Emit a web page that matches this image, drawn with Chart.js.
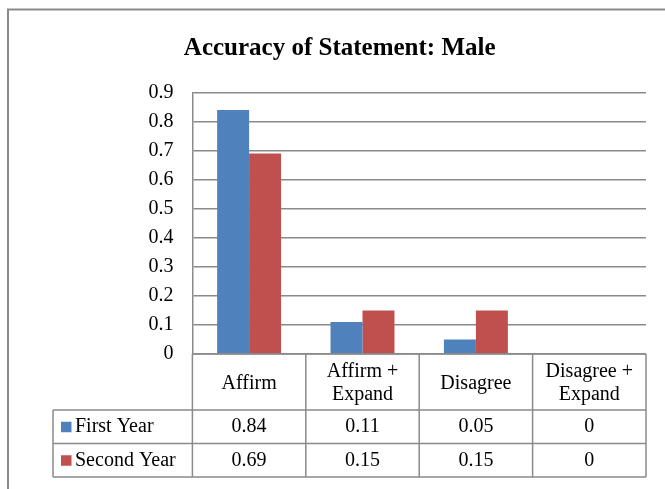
<!DOCTYPE html>
<html>
<head>
<meta charset="utf-8">
<script src="https://cdn.jsdelivr.net/npm/chart.js@4"></script>
<style>
    body { margin: 0; background: #fff; }
    canvas { display: block; }
</style>
</head>
<body>
<canvas id="myChart" width="665" height="489"></canvas>
<script>
    const chartTitle = 'Accuracy of Statement: Male';
    const categories = ['Affirm', ['Affirm +', 'Expand'], 'Disagree', ['Disagree +', 'Expand']];
    const seriesNames = ['First Year', 'Second Year'];
    const firstYear = [0.84, 0.11, 0.05, 0];
    const secondYear = [0.69, 0.15, 0.15, 0];
    const yTickLabels = ['0', '0.1', '0.2', '0.3', '0.4', '0.5', '0.6', '0.7', '0.8', '0.9'];

    const colors = ['#4f81bd', '#c0504d'];
    const lineColor = '#8a8a8a';
    const serif = "'Liberation Serif', 'Times New Roman', serif";

    // frame + data table drawn under the plot
    const dataTable = {
        id: 'dataTable',
        beforeDraw(chart) {
            let ctx = chart.ctx;
            ctx.save();
            ctx.strokeStyle = lineColor;
            ctx.lineWidth = 2;
            ctx.strokeRect(8, 9.5, 720, 600);
            ctx.restore();
        },
        afterDraw(chart) {
            let ctx = chart.ctx;
            let x = chart.scales.x;
            let area = chart.chartArea;
            let colW = (x.right - x.left) / categories.length;
            let top = area.bottom;
            let headBottom = top + 56;
            let rowH = 33.5;
            let tableLeft = 53;
            let rows = [firstYear, secondYear];
            let bottom = headBottom + rowH * rows.length;

            ctx.save();
            ctx.strokeStyle = lineColor;
            ctx.lineWidth = 1.5;
            ctx.beginPath();
            for (let i = 0; i <= categories.length; i++) {
                let cx = x.left + i * colW;
                ctx.moveTo(cx, top);
                ctx.lineTo(cx, bottom);
            }
            ctx.moveTo(tableLeft, headBottom);
            ctx.lineTo(tableLeft, bottom);
            ctx.moveTo(x.left, top);
            ctx.lineTo(x.right, top);
            for (let r = 0; r <= rows.length; r++) {
                let ry = headBottom + r * rowH;
                ctx.moveTo(tableLeft, ry);
                ctx.lineTo(x.right, ry);
            }
            ctx.stroke();

            ctx.fillStyle = '#000';
            ctx.font = '20px ' + serif;
            ctx.textAlign = 'center';
            ctx.textBaseline = 'middle';
            categories.forEach((c, i) => {
                let cx = x.getPixelForValue(i);
                let lines = Array.isArray(c) ? c : [c];
                let mid = (top + headBottom) / 2 + 1.5;
                lines.forEach((l, j) => {
                    ctx.fillText(l, cx, mid + (j - (lines.length - 1) / 2) * 23);
                });
            });

            rows.forEach((vals, r) => {
                let cy = headBottom + r * rowH + rowH / 2;
                vals.forEach((v, i) => {
                    ctx.fillStyle = '#000';
                    ctx.textAlign = 'center';
                    ctx.fillText(String(v), x.getPixelForValue(i), cy);
                });
                ctx.fillStyle = colors[r];
                ctx.fillRect(61, cy - 5, 10.5, 10.5);
                ctx.fillStyle = '#000';
                ctx.textAlign = 'left';
                ctx.fillText(seriesNames[r], 75, cy);
            });
            ctx.restore();
        }
    };

    let ctx = document.getElementById('myChart');
    let myChart = new Chart(ctx, {
        type: 'bar',
        data: {
            labels: categories,
            datasets: [{
                label: seriesNames[0],
                data: firstYear,
                backgroundColor: colors[0],
                categoryPercentage: 0.564,
                barPercentage: 1,
            }, {
                label: seriesNames[1],
                data: secondYear,
                backgroundColor: colors[1],
                categoryPercentage: 0.564,
                barPercentage: 1,
            }]
        },
        options: {
            responsive: false,
            animation: false,
            layout: {
                padding: { left: 33.4, right: 19, top: 10, bottom: 135 }
            },
            plugins: {
                legend: { display: false },
                tooltip: { enabled: false },
                title: {
                    display: true,
                    text: chartTitle,
                    color: '#000',
                    font: { family: serif, size: 25, weight: 'bold', lineHeight: 1.2 },
                    padding: { top: 24, bottom: 28.5 }
                }
            },
            scales: {
                x: {
                    display: false,
                },
                y: {
                    min: 0,
                    max: 0.9,
                    afterFit(scale) {
                        scale.width = 159;
                    },
                    ticks: {
                        stepSize: 0.1,
                        padding: 19,
                        color: '#000',
                        font: { family: serif, size: 20 },
                        callback: (value, index) => yTickLabels[index]
                    },
                    grid: {
                        color: lineColor,
                        lineWidth: 1.5,
                        drawTicks: false,
                    },
                    border: {
                        display: true,
                        color: lineColor,
                        width: 1.5,
                    }
                }
            }
        },
        plugins: [dataTable]
    });
</script>
</body>
</html>
